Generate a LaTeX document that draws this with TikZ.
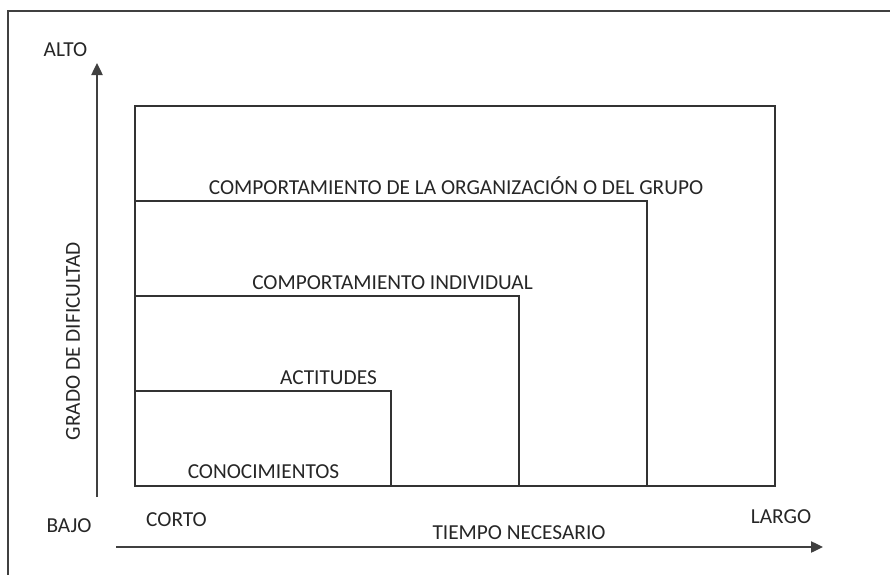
\documentclass[tikz,border=0pt]{standalone}
\usepackage{fontspec}
\setmainfont{Carlito}
\usetikzlibrary{arrows.meta}
\begin{document}
\begin{tikzpicture}[x=0.75pt,y=-0.75pt,
  lbl/.style={font=\fontsize{16}{18}\selectfont, text=black!85, inner sep=0pt, anchor=base},
  box/.style={draw=black!80, line width=1.1pt},
  axis/.style={draw=black!75, line width=1pt, -{Triangle[length=9pt,width=8.5pt]}},
  frame/.style={draw=black!75, line width=1.2pt}]
\useasboundingbox (0,0) rectangle (890,575);
\clip (0,0) rectangle (890,575);
\draw[frame] (8,11) rectangle (900,600);
% nested boxes
\draw[box] (135,106) rectangle (775,486);
\draw[box] (135,486) |- (647,201) -- (647,486);
\draw[box] (135,486) |- (519,296) -- (519,486);
\draw[box] (135,486) |- (391,391) -- (391,486);
% axes
\coordinate (ybot) at (97,497);
\coordinate (ytop) at (97,63);
\coordinate (xleft) at (116,547);
\coordinate (xright) at (823,547);
\draw[axis] (ybot) -- (ytop);
\draw[axis] (xleft) -- (xright);
% labels
\node[lbl] (org) at (456,194) {COMPORTAMIENTO DE LA ORGANIZACIÓN O DEL GRUPO};
\node[lbl] (ind) at (392.5,289) {COMPORTAMIENTO INDIVIDUAL};
\node[lbl] (act) at (328.5,384) {ACTITUDES};
\node[lbl] (con) at (263.5,478) {CONOCIMIENTOS};
\node[lbl] (alto) at (65.5,56) {ALTO};
\node[lbl] (bajo) at (69,532) {BAJO};
\node[lbl] (corto) at (176.5,526) {CORTO};
\node[lbl] (largo) at (781,523) {LARGO};
\node[lbl] (tiempo) at (519,539) {TIEMPO NECESARIO};
\node[lbl, anchor=center, rotate=90] (grado) at (73,341) {GRADO DE DIFICULTAD};
\end{tikzpicture}
\end{document}
